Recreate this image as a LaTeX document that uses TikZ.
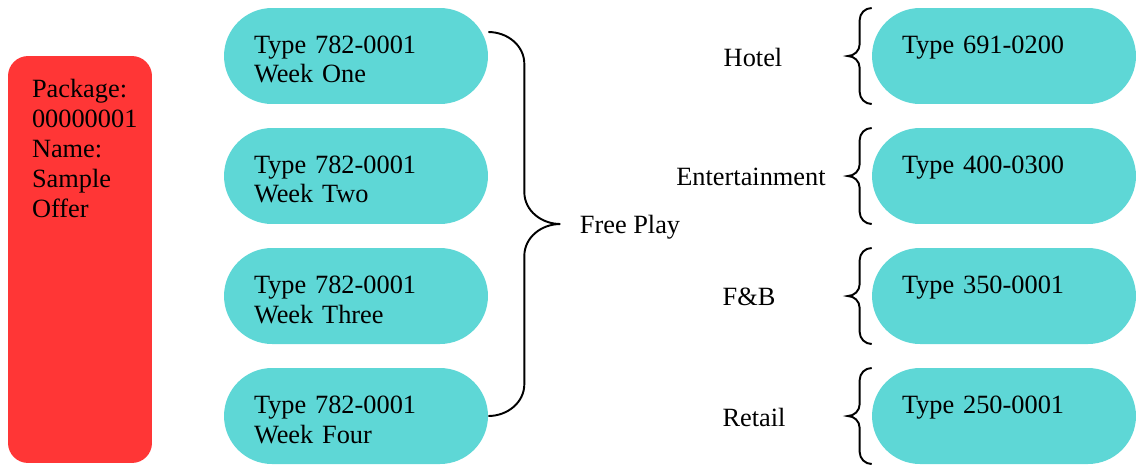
\documentclass[tikz,border=0pt]{standalone}
\usepackage{fontspec}
\setmainfont{Liberation Serif}
\usepackage{tikz}
\definecolor{offerred}{RGB}{255,54,54}
\definecolor{typeteal}{RGB}{94,215,214}

\begin{document}
\begin{tikzpicture}[x=0.02cm,y=-0.02cm,
  every node/.style={font=\fontsize{15}{17.07}\selectfont},
  typebox/.style={fill=typeteal,rounded corners=0.96cm,minimum height=1.92cm,text width=4.08cm,inner xsep=0.6cm,align=left,text height=0.4cm,text depth=0.52cm},
  curly/.style={line width=1.1pt}]
\useasboundingbox (0,0) rectangle (1142,464);
\node[fill=offerred,rounded corners=0.4cm,minimum height=8.14cm,text width=1.92cm,inner xsep=0.48cm,align=left,text height=0.4cm,text depth=6.9cm] (pkg) at (80,259.5) {Package:\\00000001\\Name:\\Sample\\Offer};
\node[typebox] (w1) at (356,56) {Type 782-0001\\Week One};
\node[typebox] (w2) at (356,176) {Type 782-0001\\Week Two};
\node[typebox] (w3) at (356,296) {Type 782-0001\\Week Three};
\node[typebox] (w4) at (356,416) {Type 782-0001\\Week Four};
\draw[curly] ([yshift=0.48cm]w1.east) to[out=0,in=90] ++(36,32) -- ++(0,128) to[out=-90,in=180] ++(36,32) to[out=180,in=90] ++(-36,32) -- ++(0,128) to[out=-90,in=0] (w4.east);
\node (fp) at (630,227) {Free Play};
\node (hotel) at (753,57) {Hotel};
\node (ent) at (751,177) {Entertainment};
\node (fnb) at (749,297) {F\&B};
\node (retail) at (754,417) {Retail};
\node[typebox] (r1) at (1004,56) {Type 691-0200};
\node[typebox] (r2) at (1004,176) {Type 400-0300};
\node[typebox] (r3) at (1004,296) {Type 350-0001};
\node[typebox] (r4) at (1004,416) {Type 250-0001};
\draw[curly] ([yshift=0.96cm]r1.west) to[out=180,in=90] ++(-12,12) -- ++(0,24) to[out=-90,in=0] ++(-12,12) to[out=0,in=90] ++(12,12) -- ++(0,24) to[out=-90,in=180] ++(12,12);
\draw[curly] ([yshift=0.96cm]r2.west) to[out=180,in=90] ++(-12,12) -- ++(0,24) to[out=-90,in=0] ++(-12,12) to[out=0,in=90] ++(12,12) -- ++(0,24) to[out=-90,in=180] ++(12,12);
\draw[curly] ([yshift=0.96cm]r3.west) to[out=180,in=90] ++(-12,12) -- ++(0,24) to[out=-90,in=0] ++(-12,12) to[out=0,in=90] ++(12,12) -- ++(0,24) to[out=-90,in=180] ++(12,12);
\draw[curly] ([yshift=0.96cm]r4.west) to[out=180,in=90] ++(-12,12) -- ++(0,24) to[out=-90,in=0] ++(-12,12) to[out=0,in=90] ++(12,12) -- ++(0,24) to[out=-90,in=180] ++(12,12);
\end{tikzpicture}
\end{document}
